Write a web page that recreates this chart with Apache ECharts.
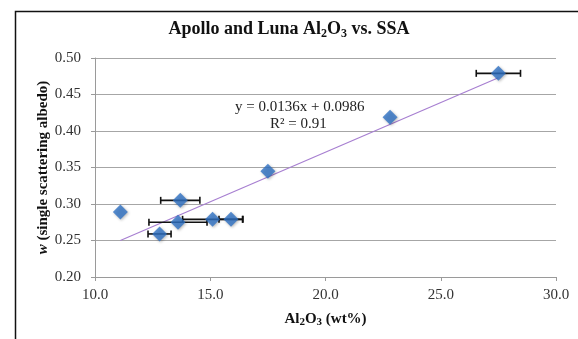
<!DOCTYPE html>
<html>
<head>
<meta charset="utf-8">
<script src="https://cdn.jsdelivr.net/npm/echarts@6/dist/echarts.min.js"></script>
<style>
  html, body { margin: 0; padding: 0; background: #fff; }
  #chart { width: 578px; height: 339px; }
</style>
</head>
<body>
<div id="chart"></div>
<script>
// Al2O3 (wt%) vs single scattering albedo
const alumina = [11.1, 12.8, 13.6, 13.7, 15.1, 15.9, 17.5, 22.8, 27.5]
const ssa = [0.289, 0.259, 0.275, 0.305, 0.279, 0.279, 0.345, 0.419, 0.479]
const aluminaErr = [0, 0.5, 1.26, 0.85, 1.3, 0.52, 0, 0, 0.96]

// linear trendline ends as drawn
const trendX = [11.1, 27.5]
const trendY = [0.250, 0.473]

const equationText = 'y = 0.0136x + 0.0986'
const r2Text = 'R² = 0.91'

const font = '"Liberation Serif", "Times New Roman", serif'

const points = alumina.map((x, i) => [x, ssa[i]])
const errBars = alumina
  .map((x, i) => [x, ssa[i], aluminaErr[i]])
  .filter((d) => d[2] > 0)
const trend = trendX.map((x, i) => [x, trendY[i]])

const chart = echarts.init(document.getElementById('chart'), null, { renderer: 'canvas' })

const subStyle = { fontSize: 11, fontWeight: 'bold', fontFamily: font, color: '#111', verticalAlign: 'bottom', lineHeight: 14 }

chart.setOption({
  animation: false,
  backgroundColor: '#fff',
  title: {
    text: '{t|Apollo and Luna Al}{s|2}{t|O}{s|3}{t| vs. SSA}',
    left: 'center',
    top: 14,
    textStyle: {
      rich: {
        t: { fontSize: 18, fontWeight: 'bold', fontFamily: font, color: '#111', lineHeight: 21 },
        s: { ...subStyle, fontSize: 12, lineHeight: 15 },
      },
    },
  },
  grid: { left: 95, right: 22, top: 58, bottom: 62 },
  xAxis: {
    type: 'value',
    min: 10,
    max: 30,
    interval: 5,
    name: '{t|Al}{s|2}{t|O}{s|3}{t| (wt%)}',
    nameLocation: 'middle',
    nameGap: 33,
    nameTextStyle: {
      rich: {
        t: { fontSize: 15, fontWeight: 'bold', fontFamily: font, color: '#111', lineHeight: 18 },
        s: subStyle,
      },
    },
    axisLine: { lineStyle: { color: '#9a9a9a' } },
    axisTick: { show: true, length: 4, lineStyle: { color: '#9a9a9a' } },
    axisLabel: { color: '#333', fontFamily: font, fontSize: 15, margin: 11, formatter: (v) => v.toFixed(1) },
    splitLine: { show: false },
  },
  yAxis: {
    type: 'value',
    min: 0.2,
    max: 0.5,
    interval: 0.05,
    name: '{i|w}{t| (single scattering albedo)}',
    nameLocation: 'middle',
    nameGap: 44,
    nameMoveOverlap: false,
    nameTextStyle: {
      rich: {
        i: { fontSize: 15, fontWeight: 'bold', fontStyle: 'italic', fontFamily: font, color: '#111' },
        t: { fontSize: 15, fontWeight: 'bold', fontFamily: font, color: '#111' },
      },
    },
    axisLine: { show: true, lineStyle: { color: '#9a9a9a' } },
    axisTick: { show: true, length: 4, lineStyle: { color: '#9a9a9a' } },
    axisLabel: { color: '#333', fontFamily: font, fontSize: 15, margin: 14, formatter: (v) => v.toFixed(2) },
    splitLine: { lineStyle: { color: '#a6a6a6', width: 1 } },
  },
  graphic: [
    {
      type: 'rect',
      left: 13,
      top: 9,
      shape: { width: 620, height: 400 },
      style: { fill: 'none', stroke: '#111', lineWidth: 1.5 },
      silent: true,
    },
    {
      type: 'text',
      left: 235,
      top: 100,
      style: { text: equationText, font: '15px ' + font, fill: '#222' },
    },
    {
      type: 'text',
      left: 270,
      top: 117,
      style: { text: r2Text, font: '15px ' + font, fill: '#222' },
    },
  ],
  series: [
    {
      name: 'trend',
      type: 'line',
      data: trend,
      showSymbol: false,
      lineStyle: { color: '#a77fd1', width: 1.2 },
      z: 1,
    },
    {
      name: 'err',
      type: 'custom',
      data: errBars,
      z: 2,
      renderItem: (params, api) => {
        const x = api.value(0)
        const y = api.value(1)
        const e = api.value(2)
        const lo = api.coord([x - e, y])
        const hi = api.coord([x + e, y])
        const h = 3.5
        const style = { stroke: '#111', lineWidth: 1.6 }
        return {
          type: 'group',
          children: [
            { type: 'line', shape: { x1: lo[0], y1: lo[1], x2: hi[0], y2: hi[1] }, style },
            { type: 'line', shape: { x1: lo[0], y1: lo[1] - h, x2: lo[0], y2: lo[1] + h }, style },
            { type: 'line', shape: { x1: hi[0], y1: hi[1] - h, x2: hi[0], y2: hi[1] + h }, style },
          ],
        }
      },
    },
    {
      name: 'samples',
      type: 'scatter',
      data: points,
      symbol: 'diamond',
      symbolSize: 15,
      z: 3,
      itemStyle: {
        color: '#2f72c4',
        shadowColor: 'rgba(0,0,0,0.35)',
        shadowBlur: 3,
        shadowOffsetX: 1,
        shadowOffsetY: 1,
      },
    },
  ],
})
</script>
</body>
</html>
